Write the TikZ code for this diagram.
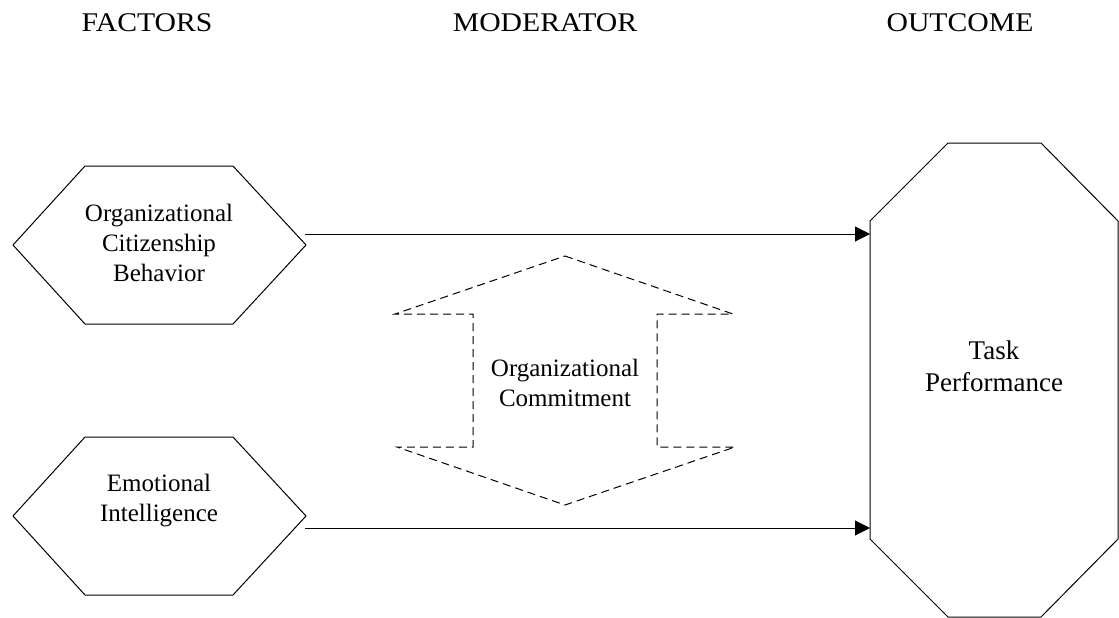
\documentclass[tikz,border=0pt]{standalone}
\usepackage{fontspec}
\setmainfont{Liberation Serif}
\newfontfamily\headfont[FakeStretch=1.1]{Liberation Serif}
\usetikzlibrary{arrows.meta}
\begin{document}
\begin{tikzpicture}[x=1pt,y=-1pt,line width=1pt,
  shapeline/.style={draw=black,line join=miter},
  lbl/.style={align=center,font=\fontsize{25}{30}\selectfont,inner sep=0pt},
  biglbl/.style={align=center,font=\fontsize{27}{32}\selectfont,inner sep=0pt},
  head/.style={font=\headfont\fontsize{27}{32}\selectfont,anchor=base,inner sep=0pt},
  conn/.style={draw=black,-{Triangle[length=15pt,width=15pt]}},
  moderline/.style={draw=black,dash pattern=on 8pt off 5pt}]
\useasboundingbox (0,0) rectangle (1119,618);
% headings
\node[head] (hfactors) at (147,32) {FACTORS};
\node[head] (hmoderator) at (545,32) {MODERATOR};
\node[head] (houtcome) at (960,32) {OUTCOME};
% hexagon 1
\path[shapeline] (13,245) -- (85,166) -- (233,166) -- (306,245) -- (233,324) -- (85,324) -- cycle;
\node[lbl] (ocb) at (159,243) {Organizational\\Citizenship\\Behavior};
% hexagon 2
\path[shapeline] (13,516) -- (85,437) -- (233,437) -- (306,516) -- (233,595) -- (85,595) -- cycle;
\node[lbl] (ei) at (159,501) {Emotional\\Intelligence};
% octagon
\path[shapeline] (948,143) -- (1041,143) -- (1118,221) -- (1118,539) -- (1041,617) -- (948,617) -- (870,539) -- (870,221) -- cycle;
\node[biglbl] (tp) at (994,366) {Task\\Performance};
% moderator double arrow
\path[moderline] (565,256) -- (733,314) -- (657,314) -- (657,447) -- (735,447) -- (565,505) -- (397,447) -- (473,447) -- (473,314) -- (395,314) -- cycle;
\node[lbl] (oc) at (565,383) {Organizational\\Commitment};
% connectors
\coordinate (ocbout) at (305,234);
\coordinate (tpin1) at (870,234);
\coordinate (eiout) at (305,528);
\coordinate (tpin2) at (870,528);
\draw[conn] (ocbout) -- (tpin1);
\draw[conn] (eiout) -- (tpin2);
\end{tikzpicture}
\end{document}
